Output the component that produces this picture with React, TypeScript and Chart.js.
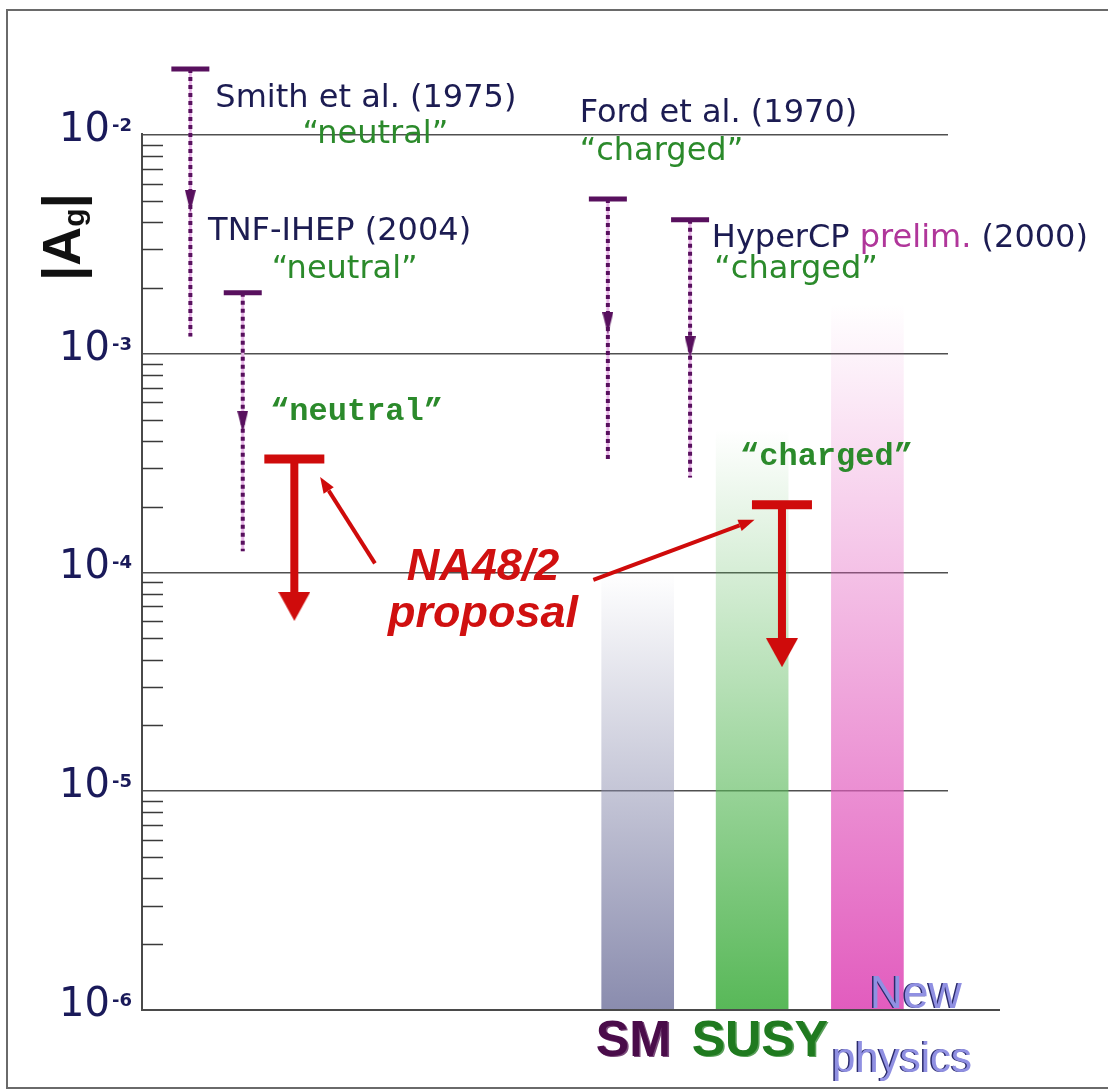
import React, { useEffect, useRef } from 'react';
import { Chart, registerables } from 'chart.js';

Chart.register(...registerables);

// ---------------- data ----------------
// Experimental upper limits (purple dotted arrows)
const expNames = ['Smith et al. (1975)', 'TNF-IHEP (2004)', 'Ford et al. (1970)', 'HyperCP prelim. (2000)'];
const expModes = ['\u201cneutral\u201d', '\u201cneutral\u201d', '\u201ccharged\u201d', '\u201ccharged\u201d'];
const expX = [6.0, 12.5, 57.8, 68.0];
const expLimit = [2.0e-2, 1.9e-3, 5.1e-3, 4.1e-3];
const expArrow = [5.0e-3, 4.9e-4, 1.38e-3, 1.07e-3];
const expTail = [1.2e-3, 1.25e-4, 3.3e-4, 2.72e-4];
const expNameX = [9.1, 8.2, 54.3, 70.7];
const expNameY = [1.34e-2, 3.31e-3, 1.15e-2, 3.08e-3];
const expModeX = [19.9, 16.1, 54.3, 71.0];
const expModeY = [9.19e-3, 2.22e-3, 7.69e-3, 2.22e-3];

// NA48/2 proposal (red)
const propModes = ['\u201cneutral\u201d', '\u201ccharged\u201d'];
const propX = [18.9, 79.4];
const propLimit = [3.3e-4, 2.04e-4];
const propArrow = [7.0e-5, 4.3e-5];
const propModeX = [15.9, 74.2];
const propModeY = [4.98e-4, 3.1e-4];
const propTitle = ['NA48/2', 'proposal'];
const propTitleX = [42.3, 42.3];
const propTitleY = [9.25e-5, 5.64e-5];
const pointerFromX = [28.9, 56.0];
const pointerFromY = [1.1e-4, 9.25e-5];
const pointerToX = [22.1, 76.0];
const pointerToY = [2.73e-4, 1.74e-4];

// Theory bands
const bandNames = ['SM', 'SUSY', 'New physics'];
const bandX = [61.5, 75.7, 90.0];
const bandTop = [1.0e-4, 4.5e-4, 1.7e-3];
const bandFloor = 1e-6;
const bandLabel = ['SM', 'SUSY', 'New', 'physics'];
const bandLabelX = [56.3, 68.2, 90.3, 85.6];
const bandLabelY = [6.17e-7, 6.17e-7, 1.02e-6, 5.21e-7];

// Axis
const decadeExps = [-6, -5, -4, -3, -2];
const minorSteps = [2, 3, 4, 5, 6, 7, 8, 9];

function makeArrow(w: number, h: number, color: string) {
  const cv = document.createElement('canvas');
  cv.width = w;
  cv.height = h;
  const g = cv.getContext('2d')!;
  g.fillStyle = color;
  g.beginPath();
  g.moveTo(0, 0);
  g.lineTo(w, 0);
  g.lineTo(w / 2, h);
  g.closePath();
  g.fill();
  return cv;
}

export default function App() {
  const ref = useRef<HTMLCanvasElement | null>(null);

  useEffect(() => {
    if (!ref.current) return;
    const purple = '#58105e';
    const red = '#cf0b0b';
    const navy = '#1c1c52';
    const green = '#2b8a2b';
    const bandRGB = ['138,140,174', '88,184,88', '226,92,190'];
    const arrowP = makeArrow(11, 22, purple);
    const arrowR = makeArrow(32, 29, red);
    const pt = (x: number, y: number) => ({ x, y });

    const datasets: any[] = [];
    datasets.push({
      type: 'bar',
      label: bandNames.join(','),
      data: bandX.map((x, i) => ({ x, y: [bandFloor, bandTop[i]] })),
      barThickness: 72,
      grouped: false,
      borderWidth: 0,
      order: 30,
      backgroundColor: (c: any) => {
        const chart = c.chart;
        const area = chart.chartArea;
        const i = c.dataIndex ?? 0;
        const rgb = bandRGB[i] || bandRGB[0];
        if (!area) return `rgb(${rgb})`;
        const top = chart.scales.y.getPixelForValue(bandTop[i]);
        const g = chart.ctx.createLinearGradient(0, top, 0, area.bottom);
        g.addColorStop(0, `rgba(${rgb},0)`);
        g.addColorStop(1, `rgba(${rgb},1)`);
        return g;
      },
    });
    expX.forEach((x, i) => {
      const d = [pt(x, expLimit[i]), pt(x, expTail[i])];
      datasets.push({ type: 'scatter', showLine: true, data: d, borderColor: '#e8b6e8', borderWidth: 3, pointRadius: 0, clip: false, order: 20 });
      datasets.push({ type: 'scatter', showLine: true, data: d, borderColor: purple, borderWidth: 4, borderDash: [4, 4], pointRadius: 0, clip: false, order: 19 });
    });
    propX.forEach((x, i) => {
      datasets.push({ type: 'scatter', showLine: true, data: [pt(x, propLimit[i]), pt(x, propArrow[i])], borderColor: red, borderWidth: 8, pointRadius: 0, clip: false, order: 18 });
    });
    datasets.push({ type: 'scatter', data: expX.map((x, i) => pt(x, expArrow[i])), pointStyle: arrowP, pointRadius: 11, order: 10 });
    datasets.push({ type: 'scatter', data: expX.map((x, i) => pt(x, expLimit[i])), pointStyle: 'line', pointRadius: 19, pointBorderWidth: 5, pointBorderColor: purple, pointBackgroundColor: purple, order: 10 });
    datasets.push({ type: 'scatter', data: propX.map((x, i) => pt(x, propArrow[i])), pointStyle: arrowR, pointRadius: 15, order: 5 });
    datasets.push({ type: 'scatter', data: propX.map((x, i) => pt(x, propLimit[i])), pointStyle: 'line', pointRadius: 30, pointBorderWidth: 9, pointBorderColor: red, pointBackgroundColor: red, order: 5 });

    const decor = {
      id: 'decor',
      beforeDraw(chart: any) {
        const c = chart.ctx;
        c.save();
        c.fillStyle = '#ffffff';
        c.fillRect(0, 0, chart.width, chart.height);
        c.strokeStyle = '#6a6a6a';
        c.lineWidth = 2;
        c.beginPath();
        c.moveTo(chart.width + 5, 10);
        c.lineTo(7, 10);
        c.lineTo(7, 1088);
        c.lineTo(chart.width + 5, 1088);
        c.stroke();
        c.restore();
      },
      afterDraw(chart: any) {
        const c = chart.ctx;
        const xs = chart.scales.x;
        const ys = chart.scales.y;
        const area = chart.chartArea;
        const X = (v: number) => xs.getPixelForValue(v);
        const Y = (v: number) => ys.getPixelForValue(v);
        c.save();
        // axes
        const top = Y(Math.pow(10, decadeExps[decadeExps.length - 1]));
        c.strokeStyle = '#4a4a4a';
        c.lineWidth = 2;
        c.beginPath();
        c.moveTo(area.left, top - 2);
        c.lineTo(area.left, area.bottom);
        c.lineTo(area.right + 52, area.bottom);
        c.stroke();
        // minor ticks
        c.lineWidth = 1.5;
        c.strokeStyle = '#3a3a3a';
        c.beginPath();
        ys.ticks.forEach((t: any) => {
          if (t.major) return;
          const py = Math.round(Y(t.value)) + 0.5;
          c.moveTo(area.left, py);
          c.lineTo(area.left + 21, py);
        });
        c.stroke();
        // tick labels
        c.fillStyle = '#1a1a5a';
        c.textBaseline = 'alphabetic';
        decadeExps.forEach((e) => {
          const py = Y(Math.pow(10, e));
          c.font = '40px "DejaVu Sans"';
          c.textAlign = 'right';
          c.fillText('10', area.left - 32, py + 6);
          c.font = 'bold 18px "DejaVu Sans"';
          c.textAlign = 'left';
          c.fillText('-' + String(-e), area.left - 30, py - 4);
        });
        // axis title |A_g|
        c.save();
        c.translate(80, 237);
        c.rotate(-Math.PI / 2);
        c.fillStyle = '#111111';
        const big = 'bold 54px "Liberation Sans"';
        const small = 'bold 30px "Liberation Sans"';
        c.font = big;
        const w1 = c.measureText('|A').width;
        const w3 = c.measureText('|').width;
        c.font = small;
        const w2 = c.measureText('g').width;
        let cx = -(w1 + w2 + w3) / 2;
        c.textAlign = 'left';
        c.font = big;
        c.fillText('|A', cx, 0);
        cx += w1;
        c.font = small;
        c.fillText('g', cx, 4);
        cx += w2;
        c.font = big;
        c.fillText('|', cx, 0);
        c.restore();

        // experiment labels
        c.textAlign = 'left';
        expNames.forEach((name, i) => {
          c.font = '32px "DejaVu Sans"';
          let px = X(expNameX[i]);
          const py = Y(expNameY[i]);
          name.split(/(prelim\.)/).forEach((p) => {
            if (!p) return;
            c.fillStyle = p === 'prelim.' ? '#b0369a' : navy;
            c.fillText(p, px, py);
            px += c.measureText(p).width;
          });
          c.fillStyle = green;
          c.fillText(expModes[i], X(expModeX[i]), Y(expModeY[i]));
        });
        // proposal mode labels
        c.font = 'bold 32px "Liberation Mono"';
        c.fillStyle = green;
        propModes.forEach((m, i) => c.fillText(m, X(propModeX[i]), Y(propModeY[i])));
        // pointers
        c.strokeStyle = red;
        c.fillStyle = red;
        c.lineWidth = 4;
        pointerFromX.forEach((_, i) => {
          const x0 = X(pointerFromX[i]);
          const y0 = Y(pointerFromY[i]);
          const x1 = X(pointerToX[i]);
          const y1 = Y(pointerToY[i]);
          const a = Math.atan2(y1 - y0, x1 - x0);
          const L = 16;
          const W = 6;
          const bx = x1 - L * Math.cos(a);
          const by = y1 - L * Math.sin(a);
          c.beginPath();
          c.moveTo(x0, y0);
          c.lineTo(bx, by);
          c.stroke();
          c.beginPath();
          c.moveTo(x1, y1);
          c.lineTo(bx - W * Math.sin(a), by + W * Math.cos(a));
          c.lineTo(bx + W * Math.sin(a), by - W * Math.cos(a));
          c.closePath();
          c.fill();
        });
        // proposal title
        c.font = 'italic bold 45px "Liberation Sans"';
        c.textAlign = 'center';
        c.fillStyle = '#d01010';
        propTitle.forEach((t, i) => c.fillText(t, X(propTitleX[i]), Y(propTitleY[i])));
        // band labels
        c.textAlign = 'left';
        bandLabel.forEach((t, i) => {
          const px = X(bandLabelX[i]);
          const py = Y(bandLabelY[i]);
          if (i < 2) {
            c.font = 'bold 50px "Liberation Sans"';
            c.fillStyle = i === 0 ? '#7a4a7a' : '#5aa05a';
            c.fillText(t, px + 1.5, py + 1);
            c.fillStyle = i === 0 ? '#4a0c4a' : '#1f7a1f';
            c.fillText(t, px, py);
          } else {
            c.font = (i === 2 ? '46px' : '42px') + ' "Liberation Sans"';
            c.fillStyle = '#2b2b6b';
            c.fillText(t, px - 1.5, py);
            c.fillStyle = '#9090e2';
            c.fillText(t, px, py);
          }
        });
        c.restore();
      },
    };

    const chart = new Chart(ref.current, {
      type: 'scatter',
      data: { datasets },
      plugins: [decor],
      options: {
        animation: false,
        responsive: false,
        devicePixelRatio: 1,
        events: [],
        layout: { autoPadding: false, padding: { left: 142, top: 30.6, right: 160, bottom: 80 } },
        plugins: { legend: { display: false }, tooltip: { enabled: false } },
        scales: {
          x: {
            type: 'linear',
            min: 0,
            max: 100,
            offset: false,
            ticks: { display: false },
            grid: { display: false, drawTicks: false, offset: false },
            border: { display: false },
            afterFit: (s: any) => { s.height = 0; },
          },
          y: {
            type: 'logarithmic',
            min: 1e-6,
            max: 3e-2,
            ticks: { display: false, autoSkip: false },
            border: { display: false },
            grid: {
              drawTicks: false,
              lineWidth: 1.5,
              color: (ctx: any) => (ctx.tick && ctx.tick.major ? '#505050' : 'rgba(0,0,0,0)'),
            },
            afterBuildTicks: (s: any) => {
              const ticks: any[] = [];
              decadeExps.forEach((e, k) => {
                ticks.push({ value: Math.pow(10, e), major: true });
                if (k < decadeExps.length - 1) {
                  minorSteps.forEach((m) => ticks.push({ value: m * Math.pow(10, e), major: false }));
                }
              });
              s.ticks = ticks;
            },
            afterFit: (s: any) => { s.width = 0; },
          },
        },
      } as any,
    });
    return () => chart.destroy();
  }, []);

  return (
    <div style={{ position: 'absolute', left: 0, top: 0, width: 1108, height: 1090 }}>
      <canvas ref={ref} width={1108} height={1090} style={{ display: 'block', width: 1108, height: 1090 }} />
    </div>
  );
}
